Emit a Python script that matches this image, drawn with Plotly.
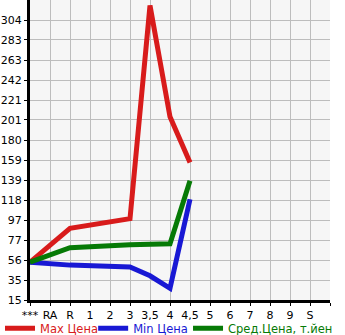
import plotly.graph_objects as go

categories = ["***", "RA", "R", "1", "2", "3", "3,5", "4", "4,5", "5", "6", "7", "8", "9", "S"]
max_price = [54, None, 89, None, None, 99, 319, 204, 157, None, None, None, None, None, None]
min_price = [54, None, 51, None, None, 49, 40, 27, 119, None, None, None, None, None, None]
avg_price = [54, None, 69, None, None, 72, 73, 73, 138, None, None, None, None, None, None]
y_ticks = [15, 35.64, 56.29, 76.93, 97.57, 118.21, 138.86, 159.5, 180.14, 200.79, 221.43, 242.07, 262.71, 283.36, 304]
y_tick_labels = ["15", "35", "56", "77", "97", "118", "139", "159", "180", "201", "221", "242", "263", "283", "304"]

series = [
    ("Max Цена", max_price, "#d81b1b", "legend", 0.0),
    ("Min Цена", min_price, "#1818d4", "legend2", 0.27),
    ("Сред.Цена, т.йен", avg_price, "#067a06", "legend3", 0.545),
]

fig = go.Figure()
legend_layouts = {}
for name, vals, color, leg, lx in series:
    fig.add_trace(go.Scatter(
        x=categories, y=vals, mode="lines", connectgaps=True,
        name=f'<span style="color:{color}">{name}</span>',
        line=dict(color=color, width=5), legend=leg,
    ))
    legend_layouts[leg] = dict(
        orientation="h", xref="container", yref="container",
        x=lx, xanchor="left", y=0.02, yanchor="middle",
        font=dict(size=11.5), itemwidth=30, bgcolor="rgba(0,0,0,0)",
        borderwidth=0,
    )

fig.update_layout(
    width=345, height=335,
    margin=dict(l=30, r=15, t=0, b=35, autoexpand=False),
    paper_bgcolor="white", plot_bgcolor="#f6f6f6",
    font=dict(family="DejaVu Sans", size=11, color="black"),
    showlegend=True,
    **legend_layouts,
)
fig.update_xaxes(
    type="category", categoryorder="array", categoryarray=categories + [" "],
    range=[0, 15], showgrid=True, gridcolor="#bdbdbd", gridwidth=1,
    showline=True, linecolor="black", linewidth=3,
    ticks="outside", ticklen=3, tickcolor="black", tickwidth=1,
    tickfont=dict(size=11), zeroline=False, fixedrange=True,
)
fig.update_yaxes(
    range=[15, 324.64], tickvals=y_ticks, ticktext=y_tick_labels,
    showgrid=True, gridcolor="#bdbdbd", gridwidth=1,
    showline=True, linecolor="black", linewidth=3,
    ticks="outside", ticklen=3, tickcolor="black", tickwidth=1,
    tickfont=dict(size=11), zeroline=False, fixedrange=True,
)

fig.write_html("out.html", config={"displayModeBar": False})
